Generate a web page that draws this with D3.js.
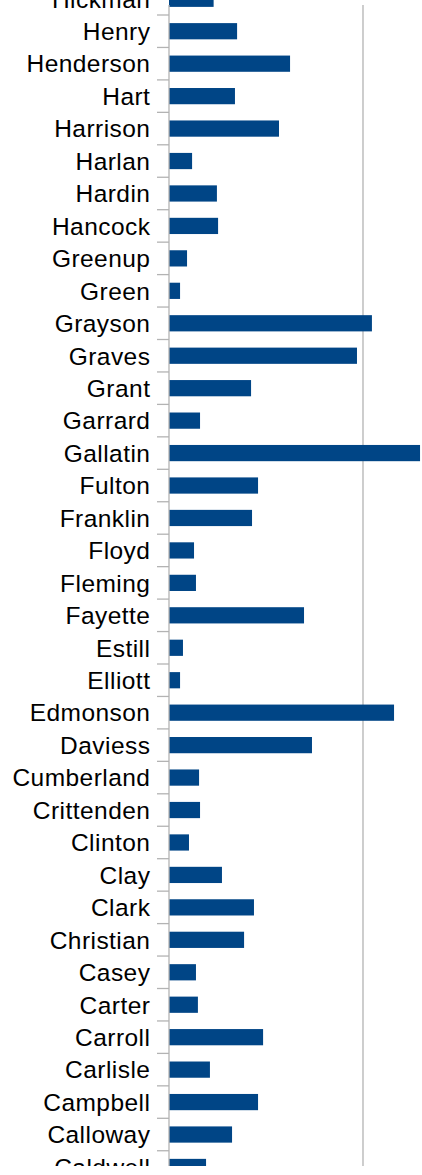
<!DOCTYPE html>
<html>
<head>
<meta charset="utf-8">
<script src="https://cdn.jsdelivr.net/npm/d3@7"></script>
<style>
  html, body { margin: 0; padding: 0; background: #fff; }
  svg { display: block; }
</style>
</head>
<body>
<div id="chart"></div>
<script>
const categories = ["Hickman","Henry","Henderson","Hart","Harrison","Harlan","Hardin","Hancock","Greenup","Green","Grayson","Graves","Grant","Garrard","Gallatin","Fulton","Franklin","Floyd","Fleming","Fayette","Estill","Elliott","Edmonson","Daviess","Cumberland","Crittenden","Clinton","Clay","Clark","Christian","Casey","Carter","Carroll","Carlisle","Campbell","Calloway","Caldwell"];
const values = [2.30,3.51,6.24,3.40,5.67,1.19,2.47,2.53,0.93,0.57,10.46,9.69,4.23,1.60,12.94,4.59,4.28,1.29,1.39,6.96,0.72,0.57,11.60,7.37,1.55,1.60,1.03,2.73,4.38,3.87,1.39,1.49,4.85,2.11,4.59,3.25,1.91];
const gridTicks = [10];

const W = 422, H = 1175;
const axisX = 169, plotTop = 5, plotBottom = 1166;

const svg = d3.select("#chart").append("svg").attr("width", W).attr("height", H);

const x = d3.scaleLinear().domain([0, 20]).range([axisX, axisX + 388]);
const y = d3.scaleBand().domain(categories).range([-17.45, 1183.2]).paddingInner(0.5).paddingOuter(0.25);
const step = y.step();

svg.append("defs").append("clipPath").attr("id", "clip")
  .append("rect").attr("x", 0).attr("y", 0).attr("width", W).attr("height", plotBottom);

const g = svg.append("g").attr("clip-path", "url(#clip)");

// gridlines
g.selectAll("line.grid").data(gridTicks).enter().append("line")
  .attr("x1", d => x(d)).attr("x2", d => x(d))
  .attr("y1", plotTop).attr("y2", plotBottom)
  .attr("stroke", "#b3b3b3").attr("stroke-width", 1.3);

// bars
g.selectAll("rect.bar").data(categories).enter().append("rect")
  .attr("x", x(0))
  .attr("y", d => y(d))
  .attr("width", (d, i) => x(values[i]) - x(0))
  .attr("height", y.bandwidth())
  .attr("fill", "#004586");

// category boundary ticks
const bounds = categories.map(d => y(d) - step * 0.25);
bounds.push(y(categories[categories.length - 1]) + y.bandwidth() + step * 0.25);
g.selectAll("line.tick").data(bounds).enter().append("line")
  .attr("x1", axisX - 12).attr("x2", axisX)
  .attr("y1", d => d).attr("y2", d => d)
  .attr("stroke", "#b3b3b3").attr("stroke-width", 1.3);

// axis line
g.append("line")
  .attr("x1", axisX).attr("x2", axisX)
  .attr("y1", plotTop).attr("y2", plotBottom)
  .attr("stroke", "#b3b3b3").attr("stroke-width", 1.3);

// labels
g.selectAll("text.lab").data(categories).enter().append("text")
  .attr("x", 150.4)
  .attr("y", d => y(d) + y.bandwidth() / 2 + 8.8)
  .attr("text-anchor", "end")
  .attr("font-family", "'Liberation Sans', Arial, sans-serif")
  .attr("font-size", "24.5px")
  .attr("letter-spacing", "0.45px")
  .attr("fill", "#000")
  .text(d => d);
</script>
</body>
</html>
